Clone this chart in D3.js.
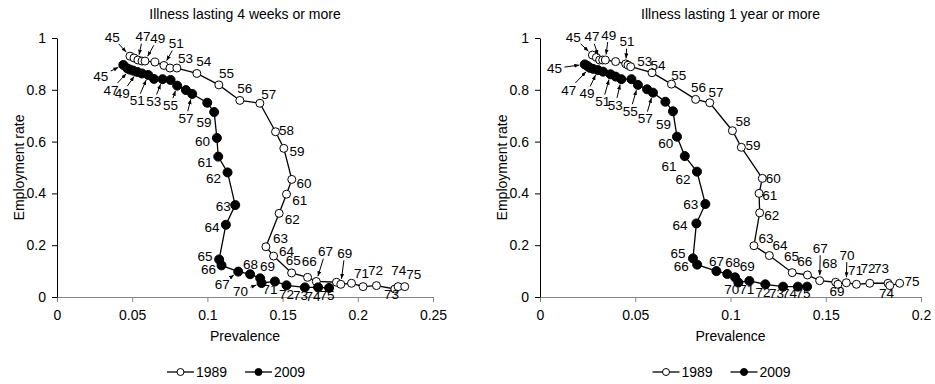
<!DOCTYPE html>
<html>
<head>
<meta charset="utf-8">
<script src="https://cdn.jsdelivr.net/npm/d3@7"></script>
<style>
  body { margin: 0; background: #fff; }
  svg { font-family: Arial, "Liberation Sans", sans-serif; font-size: 14px; }
  .agelabel { font-size: 13.5px; }
</style>
</head>
<body>
<div id="chart"></div>
<script>
const ages = [45,46,47,48,49,50,51,52,53,54,55,56,57,58,59,60,61,62,63,64,65,66,67,68,69,70,71,72,73,74,75]

// illness lasting 4 weeks or more
const prev4w1989 = [0.0485,0.0512,0.0538,0.0565,0.0585,0.0651,0.0711,0.0751,0.0797,0.0930,0.1076,0.1216,0.1349,0.1453,0.1508,0.1561,0.1526,0.1477,0.1389,0.1440,0.1560,0.1666,0.1724,0.1858,0.1887,0.1958,0.2035,0.2124,0.2246,0.2268,0.2312]
const emp4w1989 = [0.930,0.923,0.915,0.911,0.911,0.907,0.894,0.884,0.884,0.863,0.819,0.759,0.748,0.638,0.574,0.454,0.397,0.323,0.194,0.158,0.093,0.076,0.060,0.057,0.049,0.053,0.040,0.044,0.031,0.040,0.040]
const prev4w2009 = [0.0441,0.0467,0.0485,0.0507,0.0534,0.0565,0.0607,0.0645,0.0702,0.0755,0.0799,0.0857,0.0899,0.0999,0.1045,0.1063,0.1072,0.1134,0.1185,0.1123,0.1078,0.1094,0.1205,0.1284,0.1351,0.1360,0.1449,0.1526,0.1648,0.1736,0.1809]
const emp4w2009 = [0.896,0.883,0.878,0.874,0.869,0.863,0.857,0.842,0.841,0.838,0.816,0.799,0.784,0.750,0.714,0.614,0.542,0.481,0.355,0.279,0.145,0.122,0.098,0.088,0.072,0.054,0.060,0.045,0.037,0.037,0.035]

// illness lasting 1 year or more
const prev1y1989 = [0.0275,0.0296,0.0313,0.0329,0.0343,0.0397,0.0450,0.0462,0.0476,0.0588,0.0690,0.0817,0.0891,0.1010,0.1057,0.1167,0.1150,0.1153,0.1123,0.1204,0.1324,0.1404,0.1468,0.1552,0.1564,0.1608,0.1661,0.1731,0.1827,0.1836,0.1888]
const emp1y1989 = [0.934,0.925,0.915,0.915,0.915,0.909,0.900,0.895,0.889,0.866,0.822,0.763,0.750,0.642,0.578,0.458,0.400,0.325,0.198,0.160,0.094,0.085,0.063,0.057,0.049,0.055,0.049,0.053,0.053,0.044,0.053]
const prev1y2009 = [0.0235,0.0249,0.0261,0.0278,0.0304,0.0331,0.0370,0.0397,0.0427,0.0480,0.0514,0.0562,0.0593,0.0658,0.0698,0.0719,0.0760,0.0824,0.0868,0.0821,0.0803,0.0825,0.0926,0.0983,0.1024,0.1041,0.1099,0.1183,0.1276,0.1354,0.1402]
const emp1y2009 = [0.898,0.892,0.885,0.881,0.876,0.870,0.860,0.851,0.841,0.841,0.819,0.802,0.789,0.754,0.717,0.619,0.544,0.484,0.359,0.284,0.149,0.125,0.100,0.089,0.076,0.056,0.062,0.049,0.040,0.040,0.040]

const yTicks = [0, 0.2, 0.4, 0.6, 0.8, 1]
const xTicks4w = [0, 0.05, 0.1, 0.15, 0.2, 0.25]
const xTicks1y = [0, 0.05, 0.1, 0.15, 0.2]
const years = ['1989', '2009']

// age label placement: [age, dx, dy, arrow]
const lab4w1989 = [[45,-17.7,-19.3,1],[47,5,-23.3,1],[49,12.7,-22.7,1],[51,12.3,-22,1],[53,8.7,-9.7,0],[54,7,-12,0],[55,7.7,-11.7,0],[56,5,-12,0],[57,9,-9,0],[58,11,-1,0],[59,13.3,2.7,0],[60,12.3,4,0],[61,13.3,5.7,0],[62,13,5.7,0],[63,14.7,-8.5,0],[64,13,-4.5,0],[65,1.7,-12.3,0],[66,1.7,-16.5,0],[67,9.2,-29.8,1],[69,4,-31,1],[71,-1.6,-13.4,0],[72,-1,-15,0],[73,-3.3,5.3,0],[74,0.7,-16,0],[75,9,-12.7,0]]
const lab4w2009 = [[45,-22.6,11,1],[47,-19,20.5,1],[49,-15,21.3,1],[51,-11,25.7,1],[53,-8.7,22.4,1],[55,-6.6,19.6,1],[57,-6.3,24.3,1],[59,-10.2,10,0],[60,-14.3,3.3,0],[61,-13.3,5.3,0],[62,-14,5.7,0],[63,-12,1,0],[64,-14,2.3,0],[65,-14,-3,0],[66,-13,4,0],[67,-16,12.2,1],[68,0.4,-10,0],[69,7.4,-11.6,0],[70,-21,8,1],[71,-5,7.8,0],[72,0,8.7,0],[73,-4.3,7.5,0],[74,-5,9,0],[75,-2,7,0]]
const lab1y1989 = [[45,-19,-18.3,1],[47,-7.7,-23.3,1],[49,3.3,-25,1],[51,1.3,-22.3,1],[53,14,-5,0],[54,6,-7.7,0],[55,7.3,-9,0],[56,3,-12.6,0],[57,6.3,-10.7,0],[58,10.6,-9,0],[59,11.6,-2.3,0],[60,11,-0.6,0],[61,10.7,1.7,0],[62,12,2.6,0],[63,12,-7,0],[64,10.7,-10.4,0],[65,-0.6,-16,0],[66,-2.7,-13.3,0],[67,0.7,-32.4,1],[68,-6,-19,0],[69,-1,7.4,0],[70,0.6,-27.7,1],[71,-1,-14.3,0],[72,-1.7,-15,0],[73,-6.6,-15,0],[74,-3.3,7.6,0],[75,12.3,-1.6,0]]
const lab1y2009 = [[45,-30.3,4,1],[47,-21,22.3,1],[49,-11,23.3,1],[51,-7.7,27.4,1],[53,-6,25.7,1],[55,-7.6,26.3,1],[57,-7.6,26,1],[59,-9.4,13,0],[60,-11.3,7,0],[61,-15.7,10,0],[62,-14,7.6,0],[63,-14.7,0.3,0],[64,-16.4,2,0],[65,-15,-5,0],[66,-16,1.5,0],[67,0,-10.3,0],[68,5.4,-11.6,0],[69,12.3,-11.4,0],[70,-6.6,6.7,0],[71,-2.6,8,0],[72,-2.4,8.4,0],[73,-6.6,6.6,0],[74,-8.3,6.6,0],[75,-4,6.6,0]]

const svg = d3.select('#chart').append('svg')
	.attr('width', 935)
	.attr('height', 384)

svg.append('defs').append('marker')
	.attr('id', 'arrowhead')
	.attr('viewBox', '0 0 10 8')
	.attr('refX', 10)
	.attr('refY', 4)
	.attr('markerWidth', 5)
	.attr('markerHeight', 4)
	.attr('markerUnits', 'userSpaceOnUse')
	.attr('orient', 'auto')
	.append('path')
		.attr('d', 'M0,0L10,4L0,8Z')
		.attr('fill', '#000')

const render = ({left, right, xMax, xTicks, title, series}) => {
	const top = 38
	const bottom = 297
	const cx = (left + right) / 2

	const x = d3.scaleLinear().domain([0, xMax]).range([left, right])
	const y = d3.scaleLinear().domain([0, 1]).range([bottom, top])

	const g = svg.append('g')

	g.append('text')
		.attr('x', cx)
		.attr('y', 19)
		.attr('text-anchor', 'middle')
		.text(title)

	const xAxis = g.append('g')
		.attr('transform', `translate(0,${bottom})`)
		.call(d3.axisBottom(x).tickValues(xTicks).tickFormat(d => String(d)).tickSize(5).tickSizeOuter(0).tickPadding(8))
	xAxis.select('.domain').attr('stroke', '#868686')
	xAxis.selectAll('.tick line').attr('stroke', '#868686')
	xAxis.selectAll('text').attr('font-size', 14).attr('font-family', 'Arial, "Liberation Sans", sans-serif').attr('fill', '#000')

	const yAxis = g.append('g')
		.attr('transform', `translate(${left},0)`)
		.call(d3.axisLeft(y).tickValues(yTicks).tickFormat(d => String(d)).tickSize(5).tickSizeOuter(0).tickPadding(6))
	yAxis.select('.domain').attr('stroke', '#000')
	yAxis.selectAll('.tick line').attr('stroke', '#000')
	yAxis.selectAll('text').attr('font-size', 14).attr('font-family', 'Arial, "Liberation Sans", sans-serif').attr('fill', '#000')

	g.append('text')
		.attr('x', cx)
		.attr('y', 341)
		.attr('text-anchor', 'middle')
		.text('Prevalence')

	g.append('text')
		.attr('transform', `translate(${left - 38},${(top + bottom) / 2}) rotate(-90)`)
		.attr('text-anchor', 'middle')
		.attr('dy', '0.35em')
		.text('Employment rate')

	series.forEach(s => {
		const pts = ages.map((a, i) => ({age: a, px: x(s.prev[i]), py: y(s.emp[i])}))

		g.append('path')
			.datum(pts)
			.attr('fill', 'none')
			.attr('stroke', '#000')
			.attr('stroke-width', 1.3)
			.attr('d', d3.line().x(d => d.px).y(d => d.py))

		g.selectAll(null).data(pts)
		.enter()
			.append('circle')
				.attr('cx', d => d.px)
				.attr('cy', d => d.py)
				.attr('r', s.filled ? 4.5 : 4)
				.attr('fill', s.filled ? '#000' : '#fff')
				.attr('stroke', '#000')
				.attr('stroke-width', 1)
	})

	series.forEach(s => {
		s.labels.forEach(([age, dx, dy, arrow]) => {
			const i = ages.indexOf(age)
			const px = x(s.prev[i])
			const py = y(s.emp[i])
			const lx = px + dx
			const ly = py + dy

			g.append('text')
				.attr('class', 'agelabel')
				.attr('x', lx)
				.attr('y', ly)
				.attr('dy', '0.35em')
				.attr('text-anchor', 'middle')
				.text(age)

			if (arrow) {
				const len = Math.hypot(px - lx, py - ly)
				const ux = (px - lx) / len
				const uy = (py - ly) / len
				const t = Math.min(10 / Math.max(Math.abs(ux), 1e-6), 7 / Math.max(Math.abs(uy), 1e-6))
				g.append('line')
					.attr('x1', lx + ux * t)
					.attr('y1', ly + uy * t)
					.attr('x2', px - ux * 5.5)
					.attr('y2', py - uy * 5.5)
					.attr('stroke', '#000')
					.attr('stroke-width', 1)
					.attr('marker-end', 'url(#arrowhead)')
			}
		})
	})

	// legend
	const legend = g.append('g').attr('transform', `translate(${cx - 10},372)`)
	years.forEach((yr, k) => {
		const off = k === 0 ? -68 : 10
		legend.append('line')
			.attr('x1', off).attr('x2', off + 27)
			.attr('y1', 0).attr('y2', 0)
			.attr('stroke', '#000')
			.attr('stroke-width', 1.3)
		legend.append('circle')
			.attr('cx', off + 13.5)
			.attr('cy', 0)
			.attr('r', 3.5)
			.attr('fill', k === 0 ? '#fff' : '#000')
			.attr('stroke', '#000')
		legend.append('text')
			.attr('x', off + 29)
			.attr('y', 0)
			.attr('dy', '0.35em')
			.text(yr)
	})
}

render({
	left: 57,
	right: 433,
	xMax: 0.25,
	xTicks: xTicks4w,
	title: 'Illness lasting 4 weeks or more',
	series: [
		{prev: prev4w1989, emp: emp4w1989, filled: false, labels: lab4w1989},
		{prev: prev4w2009, emp: emp4w2009, filled: true, labels: lab4w2009}
	]
})

render({
	left: 540,
	right: 921,
	xMax: 0.2,
	xTicks: xTicks1y,
	title: 'Illness lasting 1 year or more',
	series: [
		{prev: prev1y1989, emp: emp1y1989, filled: false, labels: lab1y1989},
		{prev: prev1y2009, emp: emp1y2009, filled: true, labels: lab1y2009}
	]
})
</script>
</body>
</html>
